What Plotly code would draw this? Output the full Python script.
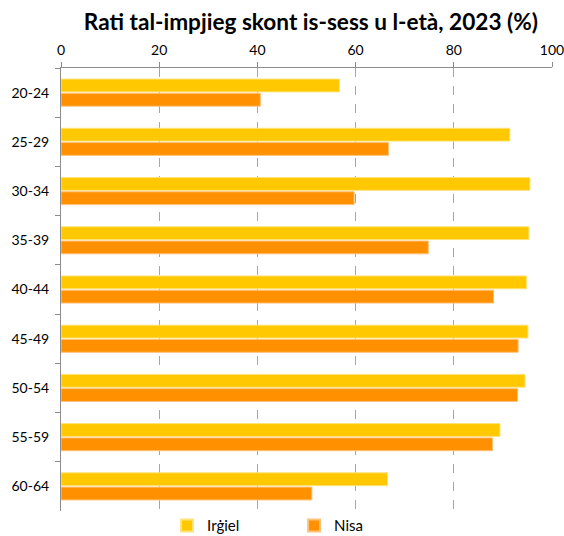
import plotly.graph_objects as go

categories = ["20-24", "25-29", "30-34", "35-39", "40-44", "45-49", "50-54", "55-59", "60-64"]
men = [56.7, 91.4, 95.5, 95.3, 94.8, 95.1, 94.5, 89.4, 66.5]
women = [40.6, 66.7, 59.7, 74.8, 88.1, 93.1, 93.0, 87.9, 51.1]
x_ticks = [0, 20, 40, 60, 80, 100]

FONT = "Lato"

fig = go.Figure()
fig.add_trace(go.Bar(
    y=categories, x=men, orientation="h", name="Irġiel",
    marker=dict(color="#FFC800", line=dict(color="#FFE27A", width=1)),
))
fig.add_trace(go.Bar(
    y=categories, x=women, orientation="h", name="Nisa",
    marker=dict(color="#FF9100", line=dict(color="#FFC27A", width=1)),
))

fig.update_layout(
    width=564, height=536,
    margin=dict(l=61, r=12, t=68, b=25, autoexpand=False),
    paper_bgcolor="white", plot_bgcolor="white",
    font=dict(family=FONT, size=14, color="#000000"),
    title=dict(text="<b>Rati tal-impjieg skont is-sess u l-età, 2023 (%)</b>",
               x=0.509, xref="paper", xanchor="center", y=0.959, yref="container", yanchor="middle",
               font=dict(family=FONT, size=22.6, color="#000000")),
    barmode="group", bargap=0.42, bargroupgap=0.1,
    showlegend=True,
    legend=dict(orientation="h", x=0.216, xanchor="left", y=0.004, yanchor="top",
                font=dict(family=FONT, size=15), entrywidth=82, entrywidthmode="pixels",
                itemsizing="constant", traceorder="normal"),
    xaxis=dict(side="top", range=[0, 100], tickvals=x_ticks, ticktext=[str(v) for v in x_ticks],
               showgrid=True, gridcolor="#A6A6A6", griddash="dash", gridwidth=1,
               showline=True, linecolor="#8C8C8C", linewidth=1,
               ticks="outside", ticklen=5, tickcolor="#8C8C8C",
               ticklabeloverflow="allow", automargin=False, ticklabelstandoff=1,
               zeroline=False, tickfont=dict(size=14)),
    yaxis=dict(autorange="reversed", type="category",
               showline=True, linecolor="#8C8C8C", linewidth=1,
               ticks="outside", ticklen=5, tickcolor="#8C8C8C", tickson="boundaries",
               ticklabelstandoff=8, automargin=False,
               showgrid=False, tickfont=dict(size=14)),
)

fig.write_html("out.html", config={"displayModeBar": False},
               post_script="document.body.style.margin='0px';")
